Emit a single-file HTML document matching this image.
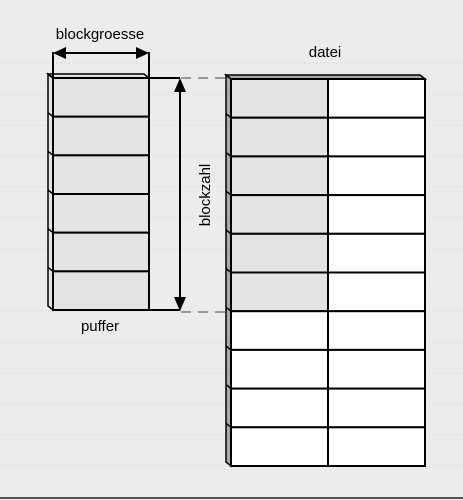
<!DOCTYPE html>
<html><head><meta charset="utf-8"><style>
html,body{margin:0;padding:0;background:#ececec;}
svg{display:block;font-family:"Liberation Sans","DejaVu Sans",sans-serif;}
</style></head><body>
<svg width="463" height="500" viewBox="0 0 463 500">
<g id="bg"></g>
<g id="puffer"></g>
<g id="datei"></g>
<g stroke="#000" stroke-width="2">
<line x1="53" y1="52" x2="53" y2="78"/><line x1="149" y1="52" x2="149" y2="78"/>
<line x1="58" y1="53" x2="144" y2="53"/>
<polygon points="53,53 66,47 66,59" fill="#000" stroke="none"/>
<polygon points="149,53 136,47 136,59" fill="#000" stroke="none"/>
</g>
<g stroke="#000" stroke-width="2">
<line x1="149" y1="78" x2="180" y2="78"/><line x1="149" y1="310" x2="180" y2="310"/>
<line x1="180" y1="88" x2="180" y2="300"/>
<polygon points="180,78 174,92 186,92" fill="#000" stroke="none"/>
<polygon points="180,311 174,297 186,297" fill="#000" stroke="none"/>
<line x1="181" y1="78" x2="228" y2="78" stroke="#999" stroke-dasharray="10,7"/>
<line x1="181" y1="312" x2="228" y2="312" stroke="#999" stroke-dasharray="10,7"/>
</g>
<text x="100" y="39" font-size="15" text-anchor="middle">blockgroesse</text>
<text x="325" y="57" font-size="15" text-anchor="middle">datei</text>
<text x="100" y="331" font-size="15" text-anchor="middle">puffer</text>
<text x="0" y="0" font-size="15" text-anchor="middle" transform="translate(210,195) rotate(-90)">blockzahl</text>
<line x1="0" y1="498" x2="463" y2="498" stroke="#555" stroke-width="2"/>
</svg>
<script>
const pufferRows = 6;
const dateiRows = 10;
const dateiGrayRows = 6;
const NS='http://www.w3.org/2000/svg';
function mk(tag,attrs,parent){const e=document.createElementNS(NS,tag);for(const k in attrs)e.setAttribute(k,attrs[k]);parent.appendChild(e);return e;}
const bg=document.getElementById('bg');
for(let y=32;y<495;y+=31){const l=mk('line',{x1:0,x2:463,y1:y,y2:y,stroke:'#dcdcdc','stroke-width':1,'stroke-dasharray':'2,2'},bg);

}
function block(g,x,top,bottom,rows,cols,grayRows,stripFill){
  const rh=(bottom-top)/rows;
  const w=cols[cols.length-1]-x;
  mk('polygon',{points:`${x-5},${top-4} ${x},${top} ${x},${bottom} ${x-5},${bottom-4}`,fill:stripFill,stroke:'#000','stroke-width':1.5},g);
  mk('polygon',{points:`${x-5},${top-4} ${x+w-5},${top-4} ${x+w},${top} ${x},${top}`,fill:stripFill,stroke:'#000','stroke-width':1.5},g);
  for(let i=0;i<rows;i++){
    for(let c=0;c<cols.length-1;c++){
      const gray=(c===0&&i<grayRows);
      const r=mk('rect',{x:cols[c],y:top+i*rh,width:cols[c+1]-cols[c],height:rh,fill:gray?'#e3e3e3':'#fff',stroke:'#000','stroke-width':2},g);
      
      
    }
    mk('line',{x1:x-5,y1:top+i*rh-4,x2:x,y2:top+i*rh,stroke:'#000','stroke-width':1.5},g);
  }
}
block(document.getElementById('puffer'),53,78,310,pufferRows,[53,149],pufferRows,'#e3e3e3');
block(document.getElementById('datei'),231,79,466,dateiRows,[231,328,425],dateiGrayRows,'#aaa');
</script>
</body></html>
